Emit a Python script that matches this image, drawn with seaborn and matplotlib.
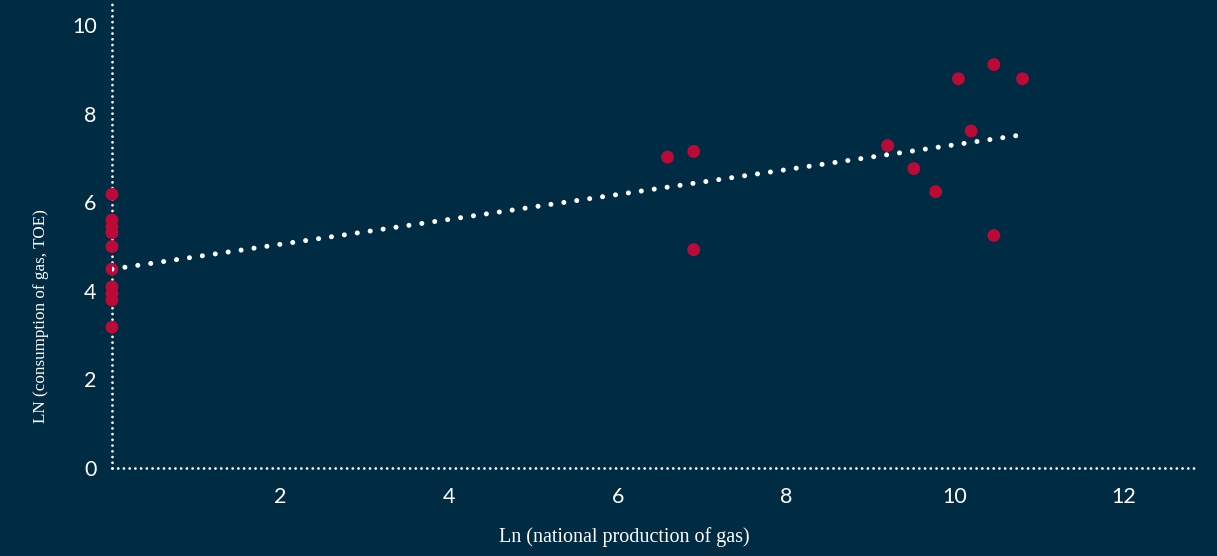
import numpy as np
import pandas as pd
import matplotlib
matplotlib.use("Agg")
import matplotlib.pyplot as plt
import seaborn as sns

# Log national gas production vs. log gas consumption (TOE), one point per country
ln_production = [0, 0, 0, 0, 0, 0, 0, 0, 0, 0,
                 6.59, 6.90, 6.90, 9.20, 9.51, 9.77, 10.04, 10.19, 10.46, 10.80, 10.46]
ln_consumption = [6.18, 5.60, 5.45, 5.31, 5.00, 4.49, 4.09, 3.94, 3.79, 3.18,
                  7.02, 7.15, 4.93, 7.28, 6.76, 6.24, 8.79, 7.61, 9.11, 8.79, 5.25]

# Linear trend (intercept, slope) over the production range
trend_intercept = 4.49
trend_slope = 0.281

x_ticks = [2, 4, 6, 8, 10, 12]
y_ticks = [0, 2, 4, 6, 8, 10]

BG = "#002c43"
RED = "#bc0a38"
WHITE = "#ffffff"

sns.set_theme(style="white")
plt.rcParams["font.family"] = ["Lato", "DejaVu Sans"]

df = pd.DataFrame({"prod": ln_production, "cons": ln_consumption})
trend_x = np.array([0.0, max(ln_production)])
trend = pd.DataFrame({"x": trend_x, "y": trend_intercept + trend_slope * trend_x})

fig = plt.figure(figsize=(12.17, 5.56), dpi=100, facecolor=BG)
ax = fig.add_axes([0.092, 0.1583, 0.8916, 0.8363])
ax.set_facecolor(BG)

sns.scatterplot(data=df, x="prod", y="cons", ax=ax, color=RED, s=85,
                edgecolor="none", linewidth=0, zorder=3, clip_on=False)
sns.lineplot(data=trend, x="x", y="y", ax=ax, color=WHITE, zorder=4)
tl = ax.lines[-1]
tl.set_linewidth(3.6)
tl.set_linestyle((0, (0.01, 2.6)))
tl.set_dash_capstyle("round")

ax.set_xlim(0, 12.87)
ax.set_ylim(0, 10.5)
ax.set_xticks(x_ticks)
ax.set_yticks(y_ticks)
ax.tick_params(axis="both", length=0, labelsize=15.5, colors=WHITE)
ax.tick_params(axis="x", pad=14)
ax.tick_params(axis="y", pad=11)

for side in ("top", "right"):
    ax.spines[side].set_visible(False)
for side in ("left", "bottom"):
    sp = ax.spines[side]
    sp.set_color(WHITE)
    sp.set_linewidth(2.0)
    sp.set_linestyle((0, (0.01, 2.05)))
    sp.set_capstyle("round")
    sp.set_zorder(2)

serif = ["Liberation Serif", "DejaVu Serif"]
ax.set_xlabel("Ln (national production of gas)", color=WHITE, fontsize=14.5, family=serif)
ax.set_ylabel("LN (consumption of gas, TOE)", color=WHITE, fontsize=12.3, family=serif)
ax.xaxis.set_label_coords(0.472, -0.127)
ax.yaxis.set_label_coords(-0.058, 0.326)

fig.savefig("out.png", dpi=100, facecolor=BG)
